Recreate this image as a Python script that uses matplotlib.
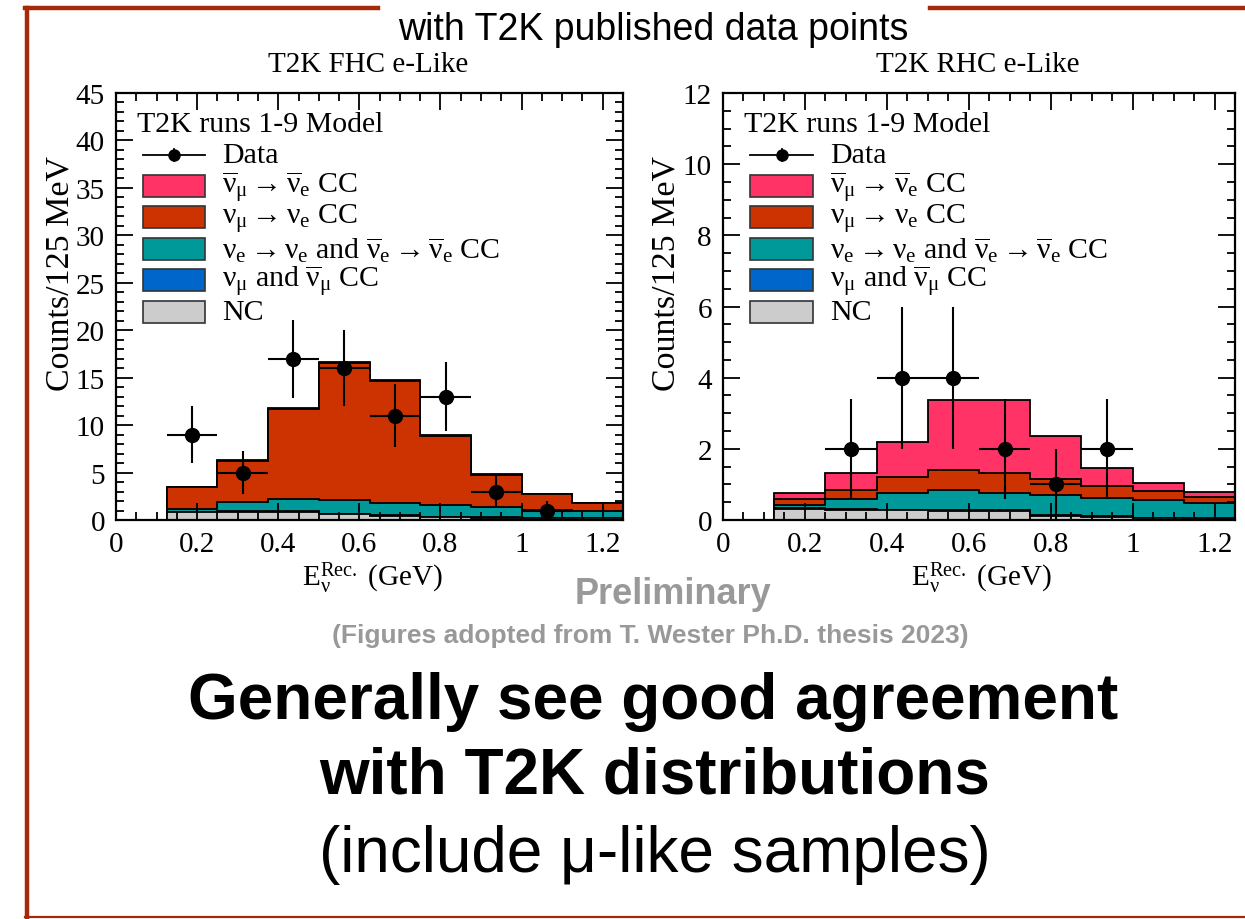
import numpy as np
import matplotlib
matplotlib.use('Agg')
import matplotlib.pyplot as plt
from matplotlib.patches import Rectangle
from matplotlib.lines import Line2D
from matplotlib.ticker import MultipleLocator, FixedLocator, FixedFormatter

plt.rcParams['font.family'] = 'Liberation Serif'
plt.rcParams['mathtext.fontset'] = 'custom'
plt.rcParams['mathtext.rm'] = 'Liberation Serif'
plt.rcParams['mathtext.it'] = 'Liberation Serif:italic'
plt.rcParams['mathtext.default'] = 'rm'

# bin edges (GeV), 125 MeV bins
edges = [0.125, 0.25, 0.375, 0.5, 0.625, 0.75, 0.875, 1.0, 1.125, 1.25]

# FHC e-like components (bottom -> top of stack)
fhc_nc = [0.81, 0.88, 0.88, 0.60, 0.46, 0.28, 0.25, 0.18, 0.18]
fhc_numu = [0.05, 0.06, 0.06, 0.05, 0.04, 0.04, 0.03, 0.03, 0.03]
fhc_nue = [0.31, 0.93, 1.29, 1.43, 1.34, 1.31, 1.13, 0.85, 0.78]
fhc_app = [2.31, 4.33, 9.43, 14.46, 12.84, 7.23, 3.37, 1.66, 0.75]
fhc_antiapp = [0.05, 0.09, 0.14, 0.16, 0.12, 0.08, 0.06, 0.04, 0.03]
fhc_data = [9, 5, 17, 16, 11, 13, 3, 1, 0]

# RHC e-like components
rhc_nc = [0.31, 0.29, 0.27, 0.25, 0.25, 0.12, 0.09, 0.05, 0.04]
rhc_numu = [0.02, 0.02, 0.02, 0.02, 0.02, 0.01, 0.01, 0.01, 0.01]
rhc_nue = [0.10, 0.29, 0.48, 0.58, 0.50, 0.57, 0.52, 0.50, 0.42]
rhc_app = [0.16, 0.24, 0.43, 0.55, 0.54, 0.44, 0.34, 0.25, 0.17]
rhc_antiapp = [0.16, 0.47, 0.98, 1.98, 2.07, 1.21, 0.51, 0.24, 0.14]
rhc_data = [0, 2, 4, 4, 2, 1, 2, 0, 0]

# legend order (top -> bottom)
leg_labels = [
    r'$\overline{\nu}_{\mu} \rightarrow \overline{\nu}_{e}$ CC',
    r'$\nu_{\mu} \rightarrow \nu_{e}$ CC',
    r'$\nu_{e} \rightarrow \nu_{e}$ and $\overline{\nu}_{e} \rightarrow \overline{\nu}_{e}$ CC',
    r'$\nu_{\mu}$ and $\overline{\nu}_{\mu}$ CC',
    'NC',
]
leg_colors = ['#ff3366', '#cc3300', '#009999', '#0066cc', '#cccccc']

xtick_vals = [0, 0.2, 0.4, 0.6, 0.8, 1.0, 1.2]
xtick_labels = ['0', '0.2', '0.4', '0.6', '0.8', '1', '1.2']

W, H = 1245, 920
fig = plt.figure(figsize=(W / 100, H / 100), dpi=100)
FS = 21
LFS = 21.5


def draw_panel(ax, comps, data, ymax, ymaj, ymin):
    stack = np.cumsum(np.array(comps), axis=0)
    cols = leg_colors[::-1]
    for k in reversed(range(len(comps))):
        ax.stairs(stack[k], edges, baseline=0, fill=True, facecolor=cols[k],
                  edgecolor='black', linewidth=1.3, zorder=1)
    e = np.array(edges)
    centers = (e[:-1] + e[1:]) / 2
    d = np.array(data, dtype=float)
    m = d > 0
    ax.errorbar(centers[m], d[m], xerr=0.0625, yerr=np.sqrt(d[m]), fmt='o',
                color='black', ms=10, elinewidth=1.5, capsize=0, zorder=3)
    ax.set_xlim(0, 1.25)
    ax.set_ylim(0, ymax)
    ax.xaxis.set_major_locator(FixedLocator(xtick_vals))
    ax.xaxis.set_major_formatter(FixedFormatter(xtick_labels))
    ax.xaxis.set_minor_locator(MultipleLocator(0.05))
    ax.yaxis.set_major_locator(MultipleLocator(ymaj))
    ax.yaxis.set_minor_locator(MultipleLocator(ymin))
    ax.tick_params(which='both', direction='in', top=True, right=True,
                   labelsize=FS, width=1.3)
    ax.tick_params(which='major', length=12, pad=8)
    ax.tick_params(which='minor', length=6)
    for s in ax.spines.values():
        s.set_linewidth(1.6)
    ax.set_ylabel('Counts/125 MeV', fontsize=24.5)
    ax.yaxis.label.set_va('center')
    ax.yaxis.set_label_coords(-0.11, 0.58)
    ax.set_xlabel(r'$\mathrm{E}_{\nu}^{\mathrm{Rec.}}$ (GeV)', fontsize=FS)
    ax.xaxis.label.set_va('center')
    ax.xaxis.set_label_coords(0.505, -0.135)

    # legend drawn by hand (ROOT style)
    ax.text(0.041, 0.927, 'T2K runs 1-9 Model', transform=ax.transAxes,
            fontsize=LFS, va='center', ha='left')
    ys = [0.855, 0.782, 0.709, 0.635, 0.562, 0.487]
    ax.add_line(Line2D([0.053, 0.176], [ys[0], ys[0]], transform=ax.transAxes,
                       color='black', lw=1.3))
    ax.add_line(Line2D([0.1145, 0.1145], [ys[0] - 0.015, ys[0] + 0.015],
                       transform=ax.transAxes, color='black', lw=1.3))
    ax.plot([0.1145], [ys[0]], 'o', color='black', ms=8, transform=ax.transAxes)
    ax.text(0.209, ys[0], 'Data', transform=ax.transAxes, fontsize=LFS,
            va='center', ha='left')
    for y, lab, c in zip(ys[1:], leg_labels, leg_colors):
        ax.add_patch(Rectangle((0.053, y - 0.026), 0.123, 0.052,
                               transform=ax.transAxes, facecolor=c,
                               edgecolor='#333333', lw=1.2))
        ax.text(0.209, y, lab, transform=ax.transAxes, fontsize=LFS,
                va='center', ha='left')


axL = fig.add_axes([116 / W, 1 - 521 / H, 507 / W, 427 / H])
draw_panel(axL, [fhc_nc, fhc_numu, fhc_nue, fhc_app, fhc_antiapp], fhc_data, 45, 5, 1)
axR = fig.add_axes([723 / W, 1 - 521 / H, 512 / W, 427 / H])
draw_panel(axR, [rhc_nc, rhc_numu, rhc_nue, rhc_app, rhc_antiapp], rhc_data, 12, 2, 0.5)

fig.text(368 / W, 1 - 65 / H, 'T2K FHC e-Like', fontsize=FS, ha='center', va='center')
fig.text(978 / W, 1 - 65 / H, 'T2K RHC e-Like', fontsize=FS, ha='center', va='center')

# slide frame
red = '#a52a0a'
fig.add_artist(Line2D([27 / W, 27 / W], [1 - 9 / H, 1 - 918 / H], color=red, lw=3.2))
fig.add_artist(Line2D([25 / W, 378 / W], [1 - 9 / H, 1 - 9 / H], color=red, lw=3.2))
fig.add_artist(Line2D([930 / W, 1], [1 - 9 / H, 1 - 9 / H], color=red, lw=3.2))
fig.add_artist(Line2D([25 / W, 1], [1 - 918 / H, 1 - 918 / H], color=red, lw=1.6))

sans = 'Liberation Sans'
fig.text(653 / W, 1 - 30 / H, 'with T2K published data points', family=sans,
         fontsize=27, ha='center', va='center')
fig.text(673 / W, 1 - 594 / H, 'Preliminary', family=sans, fontsize=26,
         fontweight='bold', color='#999999', ha='center', va='center')
fig.text(650 / W, 1 - 636 / H, '(Figures adopted from T. Wester Ph.D. thesis 2023)',
         family=sans, fontsize=19, fontweight='bold', color='#999999',
         ha='center', va='center')
fig.text(653 / W, 1 - 702 / H, 'Generally see good agreement', family=sans,
         fontsize=46, fontweight='bold', ha='center', va='center')
fig.text(655 / W, 1 - 777 / H, 'with T2K distributions', family=sans,
         fontsize=46, fontweight='bold', ha='center', va='center')
fig.text(655 / W, 1 - 855 / H, '(include μ-like samples)', family=sans,
         fontsize=46, ha='center', va='center')

fig.savefig('out.png', dpi=100)
